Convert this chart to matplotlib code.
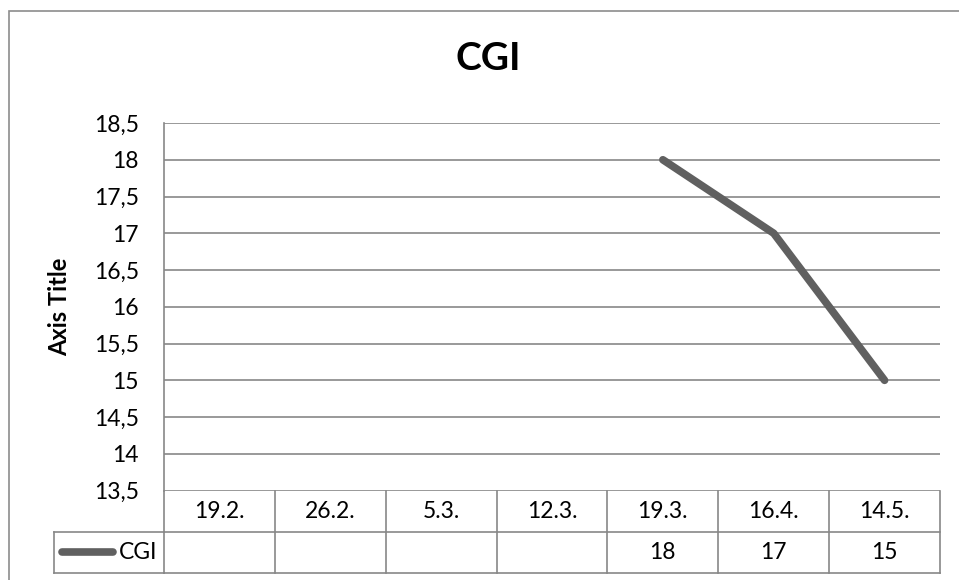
import numpy as np
import matplotlib.pyplot as plt
from matplotlib.transforms import blended_transform_factory
from matplotlib.patches import Rectangle
from matplotlib.lines import Line2D

plt.rcParams['font.family'] = ['Lato', 'DejaVu Sans']

# Data
categories = ['19.2.', '26.2.', '5.3.', '12.3.', '19.3.', '16.4.', '14.5.']
cgi_values = [None, None, None, None, 18, 17, 15]
series_name = 'CGI'
y_ticks = [13.5, 14, 14.5, 15, 15.5, 16, 16.5, 17, 17.5, 18, 18.5]

W, H = 959, 580
fig = plt.figure(figsize=(W / 100, H / 100), dpi=100)

# plot area in pixels
left, right, top, bottom = 164, 940, 123, 490.6
ax = fig.add_axes([left / W, 1 - bottom / H, (right - left) / W, (bottom - top) / H])

grid_col = '#878787'
line_col = '#606060'
fs = 16.5

x = np.arange(len(categories))
vals = np.array([np.nan if v is None else v for v in cgi_values], dtype=float)
ax.plot(x, vals, color=line_col, lw=5.5, solid_capstyle='round', solid_joinstyle='round', zorder=3)

ax.set_xlim(-0.5, len(categories) - 0.5)
ax.set_ylim(13.5, 18.5)
ax.set_yticks(y_ticks)
ax.set_yticklabels([f'{t:g}'.replace('.', ',') for t in y_ticks], fontsize=fs)
ax.tick_params(axis='y', length=0, pad=18)
ax.set_xticks([])
ax.grid(axis='y', color=grid_col, lw=1.2)
for s in ['top', 'right', 'bottom']:
    ax.spines[s].set_visible(False)
ax.spines['left'].set_color(grid_col)
ax.spines['left'].set_linewidth(1.2)

fig.text(60 / W, 1 - (top + bottom) / 2 / H, 'Axis Title', fontsize=17, fontweight='bold',
         rotation=90, ha='center', va='center')
fig.text(488 / W, 1 - 59 / H, 'CGI', fontsize=28, fontweight='bold', ha='center', va='center')

# data table below the plot
axh = bottom - top
row_h = 41 / axh
trans = blended_transform_factory(ax.transData, ax.transAxes)
kw = dict(color=grid_col, lw=1.2, clip_on=False, transform=trans)
for k in range(len(categories) + 1):
    ax.add_line(Line2D([k - 0.5, k - 0.5], [0, -2 * row_h], **kw))
for r in (1, 2):
    ax.add_line(Line2D([-0.5, len(categories) - 0.5], [-r * row_h, -r * row_h], **kw))
for i, c in enumerate(categories):
    ax.text(i, -0.5 * row_h, c, transform=trans, ha='center', va='center', fontsize=fs)
    if cgi_values[i] is not None:
        ax.text(i, -1.5 * row_h, f'{cgi_values[i]:g}', transform=trans, ha='center', va='center', fontsize=fs)

# legend cell
unit = 1 / (right - left) * len(categories)  # data units per pixel
lx0 = -0.5 - (left - 54) * unit
ax.add_line(Line2D([lx0, -0.5], [-row_h, -row_h], **kw))
ax.add_line(Line2D([lx0, -0.5], [-2 * row_h, -2 * row_h], **kw))
ax.add_line(Line2D([lx0, lx0], [-row_h, -2 * row_h], **kw))
ax.add_line(Line2D([lx0 + 8 * unit, lx0 + 59 * unit], [-1.5 * row_h, -1.5 * row_h],
                   color=line_col, lw=5.5, solid_capstyle='round', clip_on=False, transform=trans))
ax.text(lx0 + 65 * unit, -1.5 * row_h, series_name, transform=trans, ha='left', va='center', fontsize=fs)

# chart border
fig.patches.append(Rectangle((9 / W, -0.1), 1.1, 1 - 11 / H + 0.1, transform=fig.transFigure,
                             fill=False, edgecolor='#8c8c8c', lw=1.2))

fig.savefig('out.png', dpi=100)
